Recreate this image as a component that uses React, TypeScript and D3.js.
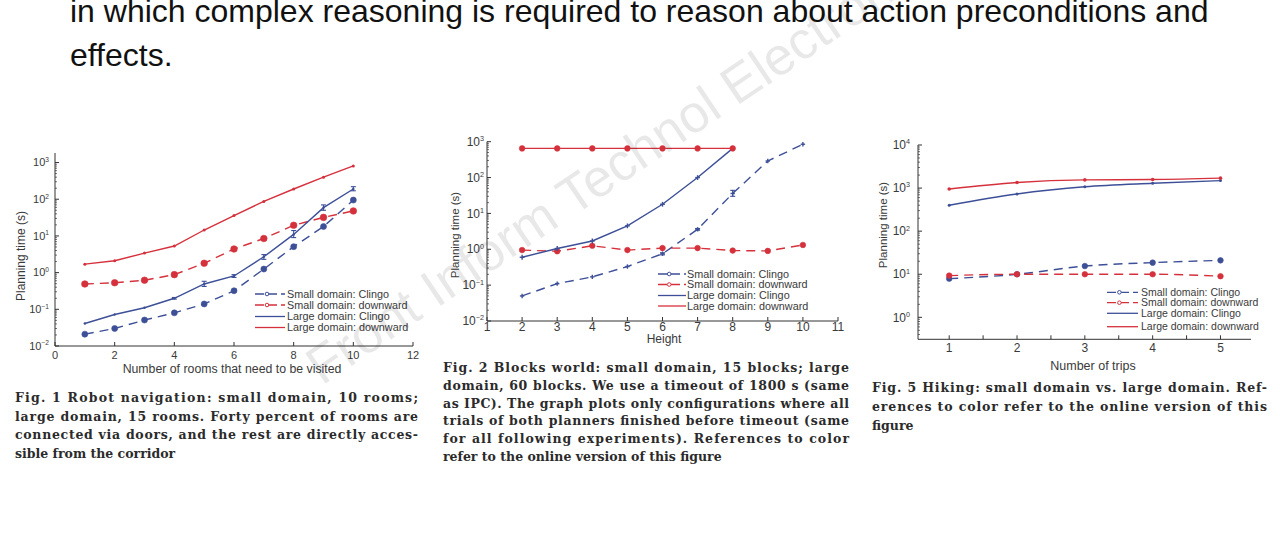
import React from 'react';
import * as d3 from 'd3';

const BLUE = '#3d4f97';
const RED = '#d5313d';
const INK = '#3a3a3a';

// ---------- Fig. 1 data (Robot navigation) ----------
const fig1X = [1, 2, 3, 4, 5, 6, 7, 8, 9, 10];
const fig1SmallClingo = [0.021, 0.03, 0.051, 0.08, 0.14, 0.32, 1.25, 5.1, 18, 95];
const fig1SmallDownward = [0.49, 0.53, 0.62, 0.88, 1.8, 4.4, 8.5, 19.5, 32, 48];
const fig1LargeClingo = [0.041, 0.072, 0.11, 0.2, 0.49, 0.81, 2.7, 11, 59, 190];
const fig1LargeClingoLo = [0.041, 0.072, 0.11, 0.19, 0.42, 0.74, 2.3, 9, 50, 170];
const fig1LargeClingoHi = [0.041, 0.072, 0.11, 0.21, 0.58, 0.88, 3.1, 14, 70, 220];
const fig1LargeDownward = [1.7, 2.1, 3.4, 5.3, 14.5, 36, 87, 190, 400, 810];
const fig1XTicks = [0, 2, 4, 6, 8, 10, 12];
const fig1YExps = [-2, -1, 0, 1, 2, 3];

// ---------- Fig. 2 data (Blocks world) ----------
const fig2XSmall = [2, 3, 4, 5, 6, 7, 8, 9, 10];
const fig2XLarge = [2, 3, 4, 5, 6, 7, 8];
const fig2SmallClingo = [0.05, 0.11, 0.17, 0.33, 0.75, 3.6, 36, 290, 850];
const fig2SmallClingoLo = [0.05, 0.11, 0.17, 0.33, 0.7, 3.4, 30, 290, 850];
const fig2SmallClingoHi = [0.05, 0.11, 0.17, 0.33, 0.8, 3.8, 44, 290, 850];
const fig2SmallDownward = [0.95, 0.88, 1.25, 0.95, 1.08, 1.08, 0.92, 0.9, 1.32];
const fig2LargeClingo = [0.6, 1.05, 1.7, 4.5, 18, 100, 650];
const fig2LargeDownward = [650, 650, 650, 650, 650, 650, 650];
const fig2XTicks = [1, 2, 3, 4, 5, 6, 7, 8, 9, 10, 11];
const fig2YExps = [-2, -1, 0, 1, 2, 3];

// ---------- Fig. 5 data (Hiking) ----------
const fig5X = [1, 2, 3, 4, 5];
const fig5SmallClingo = [7.9, 10, 15.5, 18.6, 21];
const fig5SmallDownward = [9.3, 10, 10, 10, 9];
const fig5LargeClingo = [400, 730, 1070, 1290, 1490];
const fig5LargeDownward = [950, 1350, 1550, 1580, 1700];
const fig5XTicks = [1, 1.5, 2, 2.5, 3, 3.5, 4, 4.5, 5];
const fig5XLabels = [1, 2, 3, 4, 5];
const fig5YExps = [0, 1, 2, 3, 4];

const legendNames = [
  'Small domain: Clingo',
  'Small domain: downward',
  'Large domain: Clingo',
  'Large domain: downward',
];

const topLines = [
  'in which complex reasoning is required to reason about action preconditions and',
  'effects.',
];

const caption1 = [
  'Fig. 1  Robot navigation:  small domain, 10 rooms;',
  'large domain, 15 rooms.  Forty percent of rooms are',
  'connected via doors, and the rest are directly acces-',
  'sible from the corridor',
];
const caption2 = [
  'Fig. 2  Blocks world:  small domain, 15 blocks; large',
  'domain, 60 blocks.  We use a timeout of 1800 s (same',
  'as IPC). The graph plots only configurations where all',
  'trials of both planners finished before timeout (same',
  'for all following experiments).  References to color',
  'refer to the online version of this figure',
];
const caption3 = [
  'Fig. 5  Hiking: small domain vs.  large domain.  Ref-',
  'erences to color refer to the online version of this',
  'figure',
];

type Marker = 'dot' | 'plus' | 'tiny' | 'none';
interface Series {
  x: number[];
  y: number[];
  color: string;
  dashed: boolean;
  marker: Marker;
  r: number;
  lo?: number[];
  hi?: number[];
}

interface ChartCfg {
  xDomain: [number, number];
  xRange: [number, number];
  yDomain: [number, number];
  yRange: [number, number];
  xTicks: number[];
  xLabels: number[];
  yExps: number[];
  tickFont: number;
  xLabelBaseline: number;
  yLabelGap: number;
  xTitle: string;
  xTitleX: number;
  xTitleY: number;
  titleFont: number;
  yTitleX: number;
  yTitleY: number;
  yTitleFont: number;
  smooth: boolean;
  series: Series[];
  legendRows: number[];
  legendLine: [number, number];
  legendTextX: number;
  legendFont: number;
}

function MarkerShape({ kind, cx, cy, r, color }: { kind: Marker; cx: number; cy: number; r: number; color: string }) {
  if (kind === 'dot') return <circle cx={cx} cy={cy} r={r} fill={color} stroke={color} strokeWidth={0.6} />;
  if (kind === 'tiny') return <circle cx={cx} cy={cy} r={r} fill={color} />;
  if (kind === 'plus')
    return (
      <g stroke={color} strokeWidth={1.4}>
        <line x1={cx - r} x2={cx + r} y1={cy} y2={cy} />
        <line x1={cx} x2={cx} y1={cy - r} y2={cy + r} />
      </g>
    );
  return null;
}

function Chart({ cfg }: { cfg: ChartCfg }) {
  const x = d3.scaleLinear().domain(cfg.xDomain).range(cfg.xRange);
  const y = d3.scaleLog().domain(cfg.yDomain).range(cfg.yRange);
  const ax = cfg.xRange[0];
  const ay = cfg.yRange[0];
  const line = d3
    .line<[number, number]>()
    .x((d) => x(d[0]))
    .y((d) => y(d[1]))
    .curve(cfg.smooth ? d3.curveMonotoneX : d3.curveLinear);
  const [lo, hi] = cfg.yDomain;
  const minor: number[] = [];
  for (let e = Math.floor(Math.log10(lo)); e <= Math.ceil(Math.log10(hi)); e++) {
    for (let m = 2; m <= 9; m++) {
      const v = m * Math.pow(10, e);
      if (v > lo && v < hi) minor.push(v);
    }
  }
  const majors = cfg.yExps.map((e) => Math.pow(10, e));
  return (
    <g>
      <g stroke="#333" strokeWidth={1} fill="none">
        <line x1={ax} x2={ax} y1={cfg.yRange[0]} y2={cfg.yRange[1]} />
        <line x1={cfg.xRange[0]} x2={cfg.xRange[1]} y1={ay} y2={ay} />
        {majors.map((v, i) => (
          <line key={'ym' + i} x1={ax} x2={ax + 4} y1={y(v)} y2={y(v)} />
        ))}
        {minor.map((v, i) => (
          <line key={'yn' + i} x1={ax} x2={ax + 2} y1={y(v)} y2={y(v)} strokeWidth={0.7} />
        ))}
        {cfg.xTicks.map((t, i) => (
          <line key={'xt' + i} x1={x(t)} x2={x(t)} y1={ay} y2={ay - 4} />
        ))}
      </g>
      <g fontFamily="Liberation Sans, Arial, sans-serif" fill={INK} fontSize={cfg.tickFont}>
        {cfg.xLabels.map((t, i) => (
          <text key={'xl' + i} x={x(t)} y={cfg.xLabelBaseline} textAnchor="middle">
            {t}
          </text>
        ))}
        {cfg.yExps.map((e, i) => (
          <text
            key={'yl' + i}
            x={ax - cfg.yLabelGap}
            y={y(Math.pow(10, e)) + cfg.tickFont * 0.35}
            textAnchor="end"
          >
            10
            <tspan dy={-cfg.tickFont * 0.4} fontSize={cfg.tickFont * 0.6}>
              {e < 0 ? '\u2212' + Math.abs(e) : String(e)}
            </tspan>
          </text>
        ))}
        <text x={cfg.xTitleX} y={cfg.xTitleY} textAnchor="middle" fontSize={cfg.titleFont}>
          {cfg.xTitle}
        </text>
        <text
          transform={`translate(${cfg.yTitleX},${cfg.yTitleY}) rotate(-90)`}
          textAnchor="middle"
          fontSize={cfg.yTitleFont}
        >
          Planning time (s)
        </text>
      </g>
      {cfg.series.map((s, i) => {
        const pts = s.x.map((xv, j) => [xv, s.y[j]] as [number, number]);
        return (
          <g key={'s' + i}>
            <path
              d={line(pts) || ''}
              fill="none"
              stroke={s.color}
              strokeWidth={1.4}
              strokeDasharray={s.dashed ? '9,6' : undefined}
            />
            {s.lo &&
              s.hi &&
              s.x.map((xv, j) =>
                s.hi![j] > s.lo![j] ? (
                  <g key={'e' + j} stroke={s.color} strokeWidth={1.1}>
                    <line x1={x(xv)} x2={x(xv)} y1={y(s.lo![j])} y2={y(s.hi![j])} />
                    <line x1={x(xv) - 2.5} x2={x(xv) + 2.5} y1={y(s.lo![j])} y2={y(s.lo![j])} />
                    <line x1={x(xv) - 2.5} x2={x(xv) + 2.5} y1={y(s.hi![j])} y2={y(s.hi![j])} />
                  </g>
                ) : null
              )}
            {pts.map((p, j) => (
              <MarkerShape key={'m' + j} kind={s.marker} cx={x(p[0])} cy={y(p[1])} r={s.r} color={s.color} />
            ))}
          </g>
        );
      })}
      <g fontFamily="Liberation Sans, Arial, sans-serif" fontSize={cfg.legendFont} fill={INK}>
        {cfg.series.map((s, i) => {
          const yy = cfg.legendRows[i];
          const [l0, l1] = cfg.legendLine;
          return (
            <g key={'lg' + i}>
              <line
                x1={l0}
                x2={l1}
                y1={yy}
                y2={yy}
                stroke={s.color}
                strokeWidth={1.3}
                strokeDasharray={s.dashed ? '9,4' : undefined}
              />
              {s.dashed && (
                <circle cx={l0 + (l1 - l0) * 0.4} cy={yy} r={1.8} fill="white" stroke={s.color} strokeWidth={1} />
              )}
              <text x={cfg.legendTextX} y={yy + cfg.legendFont * 0.35}>
                {legendNames[i]}
              </text>
            </g>
          );
        })}
      </g>
    </g>
  );
}

const chart1: ChartCfg = {
  xDomain: [0, 12],
  xRange: [55, 413],
  yDomain: [0.01, Math.pow(10, 3.26)],
  yRange: [346, 153],
  xTicks: fig1XTicks,
  xLabels: fig1XTicks,
  yExps: fig1YExps,
  tickFont: 11,
  xLabelBaseline: 359,
  yLabelGap: 6,
  xTitle: 'Number of rooms that need to be visited',
  xTitleX: 232,
  xTitleY: 373,
  titleFont: 12.3,
  yTitleX: 25,
  yTitleY: 256,
  yTitleFont: 12,
  smooth: false,
  series: [
    { x: fig1X, y: fig1SmallClingo, color: BLUE, dashed: true, marker: 'dot', r: 3 },
    { x: fig1X, y: fig1SmallDownward, color: RED, dashed: true, marker: 'dot', r: 3.3 },
    { x: fig1X, y: fig1LargeClingo, color: BLUE, dashed: false, marker: 'tiny', r: 1.2, lo: fig1LargeClingoLo, hi: fig1LargeClingoHi },
    { x: fig1X, y: fig1LargeDownward, color: RED, dashed: false, marker: 'tiny', r: 1.5 },
  ],
  legendRows: [294, 305, 316.5, 327.5],
  legendLine: [255, 285],
  legendTextX: 287,
  legendFont: 10.8,
};

const chart2: ChartCfg = {
  xDomain: [1, 11],
  xRange: [487, 838],
  yDomain: [0.01, 1000],
  yRange: [321, 141.7],
  xTicks: fig2XTicks,
  xLabels: fig2XTicks,
  yExps: fig2YExps,
  tickFont: 12,
  xLabelBaseline: 331,
  yLabelGap: 3,
  xTitle: 'Height',
  xTitleX: 664,
  xTitleY: 343,
  titleFont: 12,
  yTitleX: 459,
  yTitleY: 235,
  yTitleFont: 11.5,
  smooth: false,
  series: [
    { x: fig2XSmall, y: fig2SmallClingo, color: BLUE, dashed: true, marker: 'plus', r: 2.2, lo: fig2SmallClingoLo, hi: fig2SmallClingoHi },
    { x: fig2XSmall, y: fig2SmallDownward, color: RED, dashed: true, marker: 'dot', r: 2.8 },
    { x: fig2XLarge, y: fig2LargeClingo, color: BLUE, dashed: false, marker: 'plus', r: 2.4 },
    { x: fig2XLarge, y: fig2LargeDownward, color: RED, dashed: false, marker: 'dot', r: 2.8 },
  ],
  legendRows: [274, 284.5, 295.5, 306],
  legendLine: [658, 686],
  legendTextX: 687,
  legendFont: 10.8,
};

const chart3: ChartCfg = {
  xDomain: [0.54, 5.45],
  xRange: [918, 1251],
  yDomain: [Math.pow(10, -0.51), 10000],
  yRange: [339.3, 145],
  xTicks: fig5XTicks,
  xLabels: fig5XLabels,
  yExps: fig5YExps,
  tickFont: 12,
  xLabelBaseline: 352,
  yLabelGap: 8,
  xTitle: 'Number of trips',
  xTitleX: 1093,
  xTitleY: 370,
  titleFont: 12.5,
  yTitleX: 887,
  yTitleY: 225,
  yTitleFont: 11.5,
  smooth: true,
  series: [
    { x: fig5X, y: fig5SmallClingo, color: BLUE, dashed: true, marker: 'dot', r: 2.8 },
    { x: fig5X, y: fig5SmallDownward, color: RED, dashed: true, marker: 'dot', r: 2.8 },
    { x: fig5X, y: fig5LargeClingo, color: BLUE, dashed: false, marker: 'tiny', r: 1.5 },
    { x: fig5X, y: fig5LargeDownward, color: RED, dashed: false, marker: 'tiny', r: 1.8 },
  ],
  legendRows: [292.3, 302.7, 313.3, 326.7],
  legendLine: [1107, 1138],
  legendTextX: 1141,
  legendFont: 10.5,
};

function Caption({ lines, x, x2, y0, dy, size }: { lines: string[]; x: number; x2: number; y0: number; dy: number; size: number }) {
  return (
    <g fontFamily="DejaVu Serif, serif" fontWeight="bold" fontSize={size} fill="#2b2b2b">
      {lines.map((l, i) => (
        <text
          key={i}
          x={x}
          y={y0 + i * dy}
          textLength={i < lines.length - 1 ? x2 - x : undefined}
          lengthAdjust="spacing"
        >
          {l}
        </text>
      ))}
    </g>
  );
}

export default function App() {
  return (
    <svg
      width={1280}
      height={545}
      viewBox="0 0 1280 545"
      style={{ position: 'absolute', left: 0, top: 0, background: '#fff' }}
    >
      <rect x={0} y={0} width={1280} height={545} fill="#fff" />
      <g fontFamily="Liberation Sans, Arial, sans-serif" fontSize={32} fill="#111">
        {topLines.map((t, i) => (
          <text key={i} x={70} y={22 + i * 44}>
            {t}
          </text>
        ))}
      </g>
      <Chart cfg={chart1} />
      <Chart cfg={chart2} />
      <Chart cfg={chart3} />
      <Caption lines={caption1} x={15} x2={418} y0={402} dy={18.6} size={12.5} />
      <Caption lines={caption2} x={443} x2={849} y0={372} dy={17.8} size={12.5} />
      <Caption lines={caption3} x={872} x2={1267} y0={392} dy={19} size={12.5} />
      <text
        transform="translate(322,386) rotate(-34)"
        fontFamily="Liberation Sans, Arial, sans-serif"
        fontSize={53}
        fill="#000"
        fillOpacity={0.09}
      >
        Front Inform Technol Electron Eng
      </text>
    </svg>
  );
}
